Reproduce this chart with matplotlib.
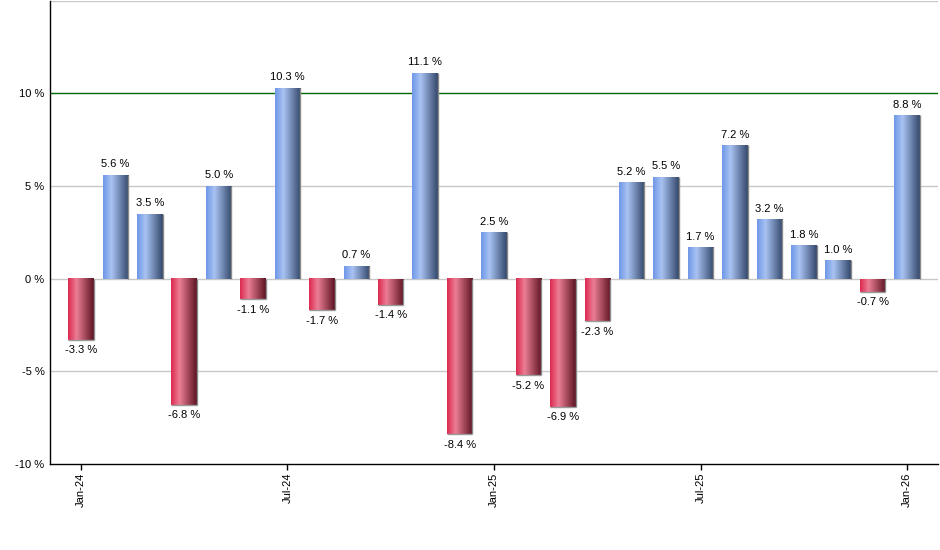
import numpy as np
import matplotlib
matplotlib.use("Agg")
import matplotlib.pyplot as plt
from matplotlib.colors import LinearSegmentedColormap

plt.rcParams['font.family'] = ['Liberation Sans', 'DejaVu Sans']

months = ["Jan-24", "Feb-24", "Mar-24", "Apr-24", "May-24", "Jun-24", "Jul-24",
          "Aug-24", "Sep-24", "Oct-24", "Nov-24", "Dec-24", "Jan-25", "Feb-25",
          "Mar-25", "Apr-25", "May-25", "Jun-25", "Jul-25", "Aug-25", "Sep-25",
          "Oct-25", "Nov-25", "Dec-25", "Jan-26"]
returns = [-3.3, 5.6, 3.5, -6.8, 5.0, -1.1, 10.3, -1.7, 0.7, -1.4, 11.1, -8.4,
           2.5, -5.2, -6.9, -2.3, 5.2, 5.5, 1.7, 7.2, 3.2, 1.8, 1.0, -0.7, 8.8]
tick_labels = ["Jan-24", "Jul-24", "Jan-25", "Jul-25", "Jan-26"]

# horizontal gradients like the original "cylinder" bars
blue_cm = LinearSegmentedColormap.from_list(
    "blu", [(0.0, "#6f98e8"), (0.33, "#a9c2f2"), (1.0, "#34486c")])
red_cm = LinearSegmentedColormap.from_list(
    "red", [(0.0, "#dc2a50"), (0.33, "#ec7e94"), (1.0, "#5e1424")])
grad = np.linspace(0, 1, 64).reshape(1, -1)

fig = plt.figure(figsize=(9.4, 5.5), dpi=100)
ax = fig.add_axes([50 / 940, 1 - 464 / 550, 888 / 940, 463.5 / 550])

x = np.arange(len(months))
width = 0.74
for xi, v in zip(x, returns):
    cm = blue_cm if v >= 0 else red_cm
    x0, x1 = xi - width / 2, xi + width / 2
    ax.imshow(grad, cmap=cm, extent=(x0, x1, 0, v), aspect="auto",
              interpolation="bilinear", zorder=3)
    # thin grey shadow on the right (and bottom for negatives)
    ax.plot([x1, x1], [0, v], color="#8a8a8a", lw=1.0, zorder=3.5,
            solid_capstyle="butt")
    if v >= 0:
        ax.annotate(f"{v:.1f} %", (xi, v), xytext=(0, 4), textcoords="offset points",
                    ha="center", va="bottom", fontsize=8, zorder=5)
    else:
        ax.plot([x0, x1], [v, v], color="#9a9a9a", lw=1.0, zorder=3.5,
                solid_capstyle="butt")
        ax.annotate(f"{v:.1f} %", (xi, v), xytext=(0, -4), textcoords="offset points",
                    ha="center", va="top", fontsize=8, zorder=5)

ax.set_xlim(-0.9, 24.9)
ax.set_ylim(-10, 15)

for g in [-5, 0, 5, 15]:
    ax.axhline(g, color="#c8c8c8", lw=1, zorder=1)
ax.axhline(10, color="#006a00", lw=1, zorder=1)

ax.set_yticks([-10, -5, 0, 5, 10])
ax.set_yticklabels(["-10 %", "-5 %", "0 %", "5 %", "10 %"], fontsize=8)
ax.tick_params(axis="y", length=0, pad=4)

ax.set_xticks([months.index(t) for t in tick_labels])
ax.set_xticklabels(tick_labels, rotation=90, fontsize=8)
ax.tick_params(axis="x", length=4, width=1, pad=2, direction="out")

for s in ["top", "right"]:
    ax.spines[s].set_visible(False)
ax.spines["left"].set_color("black")
ax.spines["bottom"].set_color("black")
ax.spines["left"].set_linewidth(1)
ax.spines["bottom"].set_linewidth(1)
ax.set_facecolor("white")

fig.savefig("out.png", dpi=100)
